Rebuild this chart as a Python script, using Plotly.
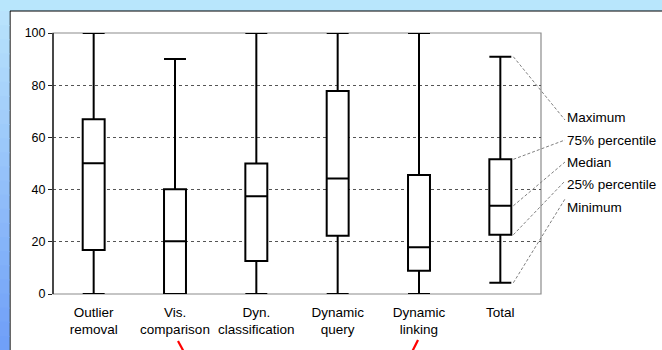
import plotly.graph_objects as go

categories = ["Outlier<br>removal", "Vis.<br>comparison", "Dyn.<br>classification",
              "Dynamic<br>query", "Dynamic<br>linking", "Total"]
minimum = [0, 0, 0, 0, 0, 4.3]
q1 = [16.9, 0, 12.6, 22.3, 8.9, 22.7]
median = [50.1, 20.2, 37.5, 44.3, 17.9, 33.8]
q3 = [67, 40.1, 50, 77.8, 45.6, 51.6]
maximum = [100, 90, 100, 100, 100, 90.9]
legend_labels = ["Maximum", "75% percentile", "Median", "25% percentile", "Minimum"]
y_ticks = [0, 20, 40, 60, 80, 100]

W, H = 662, 350
L, R, T, B = 53, 541, 33, 294
FONT = "Liberation Sans, Arial, sans-serif"


def px(x):
    return (x - L) / (R - L)


def py(y):
    return (B - y) / (B - T)


positions = list(range(len(categories)))

fig = go.Figure()
fig.add_trace(go.Box(
    x=positions, q1=q1, median=median, q3=q3,
    lowerfence=minimum, upperfence=maximum,
    width=0.27, whiskerwidth=1.0,
    line=dict(color="black", width=2), fillcolor="white",
    boxpoints=False, hoverinfo="skip", showlegend=False,
))

shapes = []
# white panel with black top/left border
shapes.append(dict(type="rect", xref="paper", yref="paper", layer="below",
                   x0=px(10), x1=px(W + 5), y0=py(H + 5), y1=py(11),
                   fillcolor="white", line=dict(width=0)))
shapes.append(dict(type="line", xref="paper", yref="paper", layer="below",
                   x0=px(10), x1=px(W + 5), y0=py(11), y1=py(11),
                   line=dict(color="black", width=1.2)))
shapes.append(dict(type="line", xref="paper", yref="paper", layer="below",
                   x0=px(10), x1=px(10), y0=py(11), y1=py(H + 5),
                   line=dict(color="black", width=1.2)))
# left gradient strip
nb = 24
c0 = (184, 226, 252)
c1 = (112, 160, 248)
for i in range(nb):
    t = i / (nb - 1)
    col = tuple(int(c0[k] + (c1[k] - c0[k]) * t) for k in range(3))
    ya = 11 + (H - 11) * i / nb
    yb = 11 + (H - 11) * (i + 1) / nb + 1
    shapes.append(dict(type="rect", xref="paper", yref="paper", layer="below",
                       x0=px(-2), x1=px(9.5), y0=py(yb), y1=py(ya),
                       fillcolor="rgb(%d,%d,%d)" % col, line=dict(width=0)))

# frame
shapes.append(dict(type="rect", xref="paper", yref="paper", layer="below",
                   x0=0, x1=1, y0=0, y1=1, line=dict(color="#8c8c8c", width=1.2)))
shapes.append(dict(type="line", xref="paper", yref="paper",
                   x0=0, x1=0, y0=0, y1=1, line=dict(color="#222222", width=1.5)))

# leader lines for Total
ti = len(categories) - 1
total_vals = [maximum[ti], q3[ti], median[ti], q1[ti], minimum[ti]]
label_y = [118, 140, 162, 184, 207]
end_y = [120, 140, 162, 181, 199]
xs = (ti + 0.16 + 0.5) / len(categories)
annotations = []
for v, lab, ly, ey in zip(total_vals, legend_labels, label_y, end_y):
    shapes.append(dict(type="line", xref="paper", yref="paper",
                       x0=xs, y0=v / 100, x1=px(565), y1=py(ey),
                       line=dict(color="#808080", width=1, dash="3px,2px")))
    annotations.append(dict(xref="paper", yref="paper", x=px(565), y=py(ly),
                            text=lab, showarrow=False, xanchor="left", yanchor="middle",
                            font=dict(family=FONT, size=13.5, color="black")))

# red arrow fragments at bottom
shapes.append(dict(type="line", xref="paper", yref="paper",
                   x0=px(178), y0=py(341), x1=px(184.5), y1=py(353),
                   line=dict(color="red", width=2.2)))
shapes.append(dict(type="line", xref="paper", yref="paper",
                   x0=px(418), y0=py(340), x1=px(411.5), y1=py(353),
                   line=dict(color="red", width=2.2)))

fig.update_layout(
    width=W, height=H,
    margin=dict(l=L, r=W - R, t=T, b=H - B, pad=0),
    paper_bgcolor="rgb(184,230,252)",
    plot_bgcolor="rgba(0,0,0,0)",
    font=dict(family=FONT, size=12.5, color="black"),
    shapes=shapes, annotations=annotations,
    showlegend=False,
    xaxis=dict(range=[-0.5, len(categories) - 0.5], tickmode="array",
               tickvals=positions, ticktext=categories, showgrid=False,
               zeroline=False, showline=False, ticks="", fixedrange=True,
               ticklabelstandoff=8, tickfont=dict(size=13.5)),
    yaxis=dict(range=[0, 100], tickmode="array", tickvals=y_ticks,
               showgrid=True, gridcolor="#555555", griddash="3px,3px", gridwidth=1,
               zeroline=False, showline=False, ticks="outside", ticklen=4,
               tickcolor="#222222", tickwidth=1.2, fixedrange=True,
               tickfont=dict(size=12.5)),
)

fig.write_html("out.html", config={"displayModeBar": False},
               post_script="document.body.style.margin='0';document.body.style.overflow='hidden';")
